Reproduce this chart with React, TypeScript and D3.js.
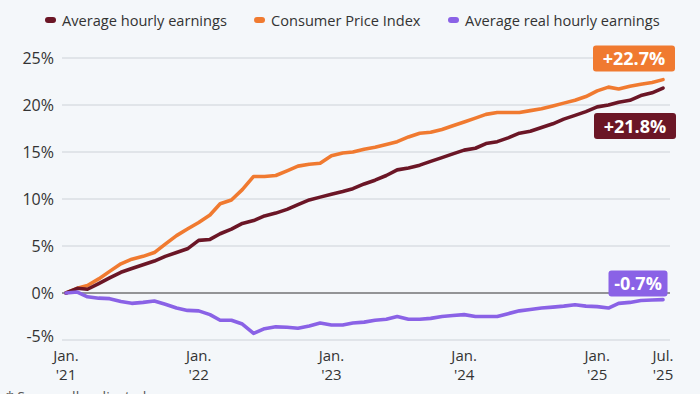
import React from 'react';
import * as d3 from 'd3';

// monthly, Jan 2021 .. Jul 2025, cumulative change in %
const startMonth = new Date(2021, 0, 1);

const hourlyEarnings = [
  0, 0.5, 0.4, 1.0, 1.6, 2.2, 2.6, 3.0, 3.4, 3.9, 4.3, 4.7,
  5.6, 5.7, 6.3, 6.8, 7.4, 7.7, 8.2, 8.5, 8.9, 9.4, 9.9, 10.2,
  10.5, 10.8, 11.1, 11.6, 12.0, 12.5, 13.1, 13.3, 13.6, 14.0, 14.4, 14.8,
  15.2, 15.4, 15.9, 16.1, 16.5, 17.0, 17.2, 17.6, 18.0, 18.5, 18.9, 19.3,
  19.8, 20.0, 20.3, 20.5, 21.0, 21.3, 21.8
];

const cpi = [
  0, 0.5, 0.8, 1.5, 2.3, 3.1, 3.6, 3.9, 4.3, 5.2, 6.1, 6.8,
  7.5, 8.3, 9.5, 9.9, 11.0, 12.4, 12.4, 12.5, 13.0, 13.5, 13.7, 13.8,
  14.6, 14.9, 15.0, 15.3, 15.5, 15.8, 16.1, 16.6, 17.0, 17.1, 17.4, 17.8,
  18.2, 18.6, 19.0, 19.2, 19.2, 19.2, 19.4, 19.6, 19.9, 20.2, 20.5, 20.9,
  21.5, 21.9, 21.7, 22.0, 22.2, 22.4, 22.7
];

const realEarnings = [
  0, 0.1, -0.4, -0.55, -0.6, -0.9, -1.1, -1.0, -0.85, -1.2, -1.6, -1.85,
  -1.9, -2.3, -2.9, -2.9, -3.3, -4.3, -3.8, -3.6, -3.65, -3.75, -3.5, -3.2,
  -3.4, -3.4, -3.2, -3.1, -2.9, -2.8, -2.5, -2.8, -2.8, -2.7, -2.5, -2.4,
  -2.3, -2.5, -2.5, -2.5, -2.2, -1.9, -1.75, -1.6, -1.5, -1.4, -1.25, -1.4,
  -1.45, -1.6, -1.1, -1.0, -0.8, -0.75, -0.7
];

const seriesNames = ['Average hourly earnings', 'Consumer Price Index', 'Average real hourly earnings'];
const seriesColors = ['#6b1626', '#f07a30', '#8a62e6'];
const endLabels = ['+21.8%', '+22.7%', '-0.7%'];

const yTicks = [-5, 0, 5, 10, 15, 20, 25];
const xTickMonths = [0, 12, 24, 36, 48, 54];
const xTickTop = ['Jan.', 'Jan.', 'Jan.', 'Jan.', 'Jan.', 'Jul.'];
const xTickBottom = ["'21", "'22", "'23", "'24", "'25", "'25"];

const W = 700;
const H = 394;
const FONT = "'Open Sans', sans-serif";

export default function App() {
  const dates = hourlyEarnings.map((_, i) => d3.timeMonth.offset(startMonth, i));
  const x = d3.scaleTime().domain([dates[0], dates[dates.length - 1]]).range([66, 663]);
  const y = d3.scaleLinear().domain([-5, 25]).range([340, 58]);

  const line = d3
    .line<number>()
    .x((_, i) => x(dates[i]))
    .y((d) => y(d))
    .curve(d3.curveLinear);

  const all = [hourlyEarnings, cpi, realEarnings];
  const xEnd = x(dates[dates.length - 1]);

  // label boxes: center x, offset from the line end, width
  const boxes = [
    { cx: xEnd - 28, dy: 38, w: 82 },
    { cx: xEnd - 29, dy: -21, w: 82 },
    { cx: xEnd - 25, dy: -16, w: 59 }
  ];

  const legendX = [45, 254, 448];

  return (
    <svg
      width={W}
      height={H}
      style={{ position: 'absolute', left: 0, top: 0, background: '#f4f7fa' }}
      fontFamily={FONT}
    >
      <rect width={W} height={H} fill="#f4f7fa" />

      {/* legend */}
      {seriesNames.map((name, i) => (
        <g key={name} transform={`translate(${legendX[i]},20)`}>
          <rect x={0} y={-3} width={11} height={6} rx={3} fill={seriesColors[i]} />
          <text x={17} y={5.5} fontSize={14.6} fill="#333">
            {name}
          </text>
        </g>
      ))}

      {/* grid */}
      {yTicks.map((t) => (
        <g key={t}>
          <line
            x1={62}
            x2={670}
            y1={y(t)}
            y2={y(t)}
            stroke={t === 0 ? '#333' : '#cdd2d8'}
            strokeWidth={t === 0 ? 1.2 : 1}
          />
          <text
            x={54}
            y={y(t) - (t === -5 ? 4 : 0)}
            dy="0.36em"
            textAnchor="end"
            fontSize={16}
            fill="#333"
          >
            {t}%
          </text>
        </g>
      ))}

      {/* x axis labels */}
      {xTickMonths.map((m, i) => (
        <g key={m} transform={`translate(${x(dates[m])},0)`}>
          <text y={361} textAnchor="middle" fontSize={15} fill="#333">
            {xTickTop[i]}
          </text>
          <text y={380} textAnchor="middle" fontSize={15} fill="#333">
            {xTickBottom[i]}
          </text>
        </g>
      ))}

      {/* lines */}
      {[1, 0, 2].map((i) => (
        <path
          key={i}
          d={line(all[i]) || ''}
          fill="none"
          stroke={seriesColors[i]}
          strokeWidth={3.6}
          strokeLinejoin="round"
          strokeLinecap="round"
        />
      ))}

      {/* end labels */}
      {all.map((s, i) => {
        const cy = y(s[s.length - 1]) + boxes[i].dy;
        return (
          <g key={i} transform={`translate(${boxes[i].cx},${cy})`}>
            <rect x={-boxes[i].w / 2} y={-13} width={boxes[i].w} height={26} rx={3} fill={seriesColors[i]} />
            <text textAnchor="middle" dy="0.36em" fontSize={18} fontWeight={700} fill="#fff">
              {endLabels[i]}
            </text>
          </g>
        );
      })}

      <text x={6} y={402} fontSize={14} fill="#555">
        * Seasonally adjusted
      </text>
    </svg>
  );
}
